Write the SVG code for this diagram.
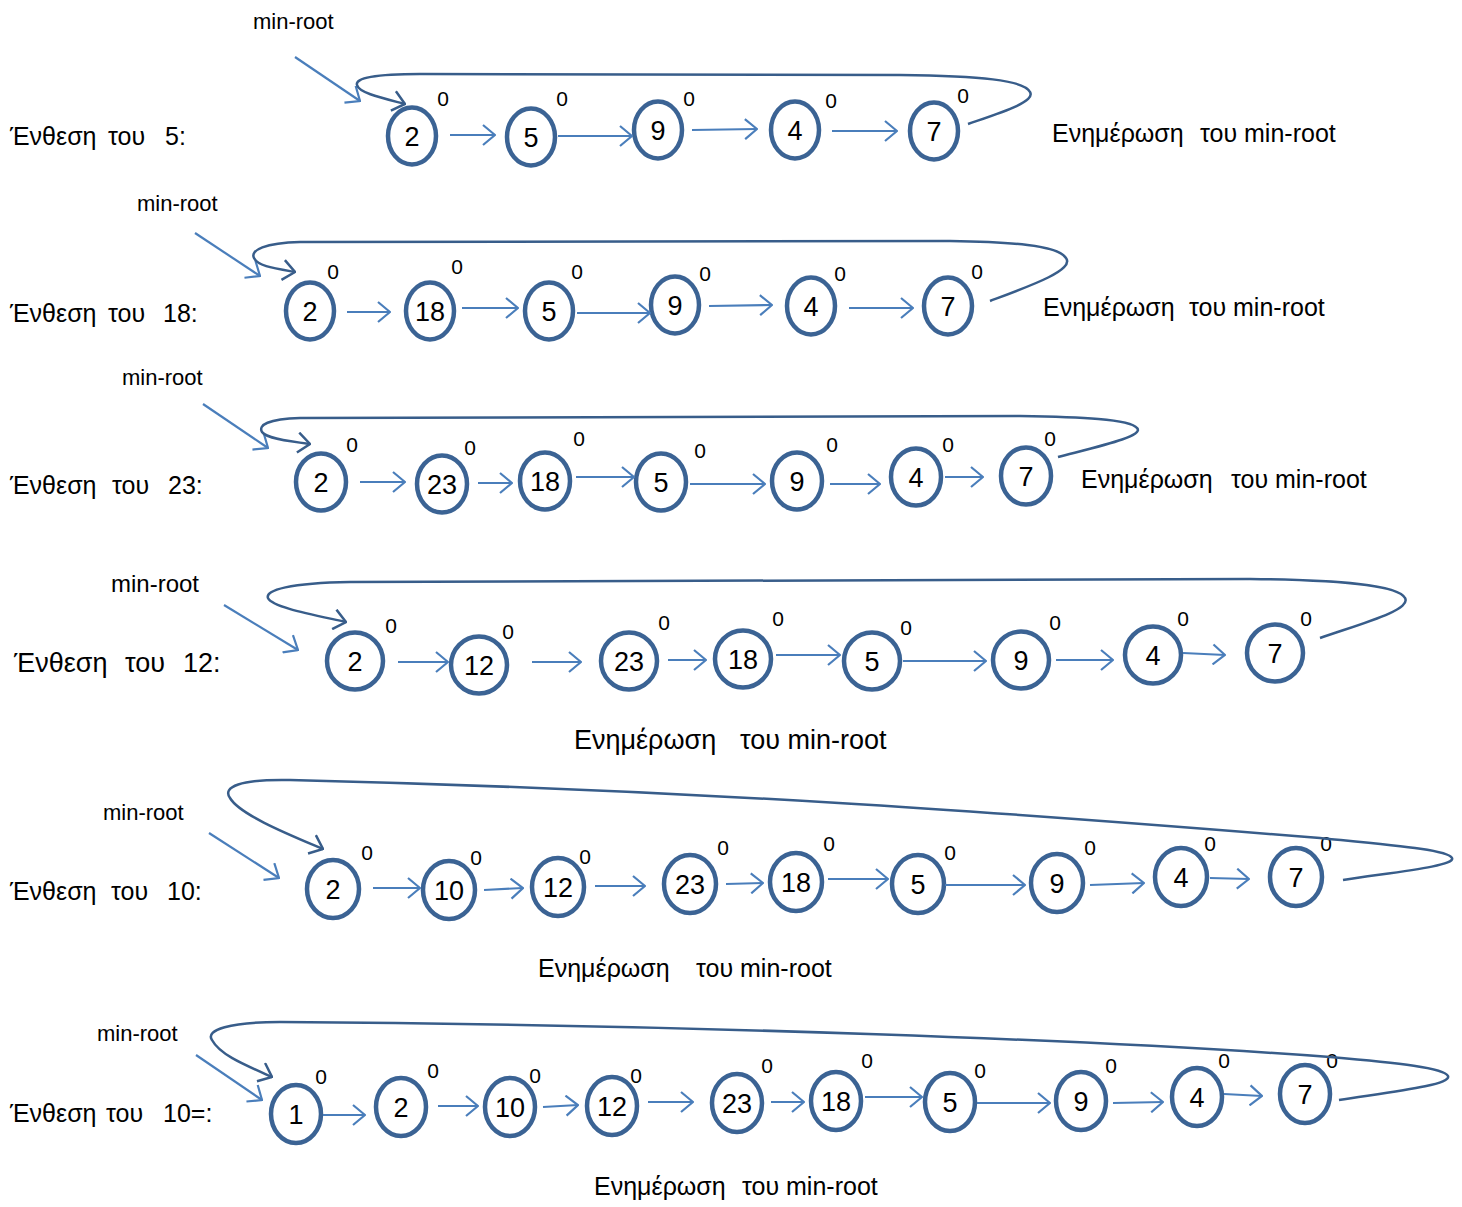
<svg xmlns="http://www.w3.org/2000/svg" width="1462" height="1207" viewBox="0 0 1462 1207">
<defs>
  <style>
    text { font-family: "Liberation Sans", "DejaVu Sans", sans-serif; fill: #000; }
    .node { fill: #fff; stroke: #3b6394; stroke-width: 4.5; }
    .val { font-size: 27px; text-anchor: middle; }
    .deg { font-size: 21px; text-anchor: middle; }
    .lbl { font-size: 25px; }
    .upd { font-size: 25px; }
    .mr { font-size: 22px; }
    .link { fill: none; stroke: #4a7ebb; stroke-width: 2.2; marker-end: url(#ah); }
    .loop { fill: none; stroke: #385d8a; stroke-width: 2.5; marker-end: url(#ahd); }
  </style>
  <marker id="ah" viewBox="0 0 14 22" refX="13" refY="11" markerWidth="14" markerHeight="22" markerUnits="userSpaceOnUse" orient="auto">
    <path d="M1,1 L13,11 L1,21" fill="none" stroke="#4a7ebb" stroke-width="2.2"/>
  </marker>
  <marker id="ahd" viewBox="0 0 14 22" refX="13" refY="11" markerWidth="14" markerHeight="22" markerUnits="userSpaceOnUse" orient="auto">
    <path d="M1,1 L13,11 L1,21" fill="none" stroke="#385d8a" stroke-width="2.5"/>
  </marker>
</defs>
<rect width="1462" height="1207" fill="#fff"/>

<!-- row labels -->
<g id="labels">
  <text class="lbl" y="145"><tspan x="10">Ένθεση</tspan><tspan x="108">του</tspan><tspan x="165">5:</tspan></text>
  <text class="lbl" y="322"><tspan x="10">Ένθεση</tspan><tspan x="108">του</tspan><tspan x="163">18:</tspan></text>
  <text class="lbl" y="494"><tspan x="10">Ένθεση</tspan><tspan x="112">του</tspan><tspan x="168">23:</tspan></text>
  <text class="lbl" y="672" style="font-size:27px"><tspan x="14">Ένθεση</tspan><tspan x="125">του</tspan><tspan x="183">12:</tspan></text>
  <text class="lbl" y="900"><tspan x="10">Ένθεση</tspan><tspan x="111">του</tspan><tspan x="167">10:</tspan></text>
  <text class="lbl" y="1122"><tspan x="10">Ένθεση</tspan><tspan x="106">του</tspan><tspan x="163">10=:</tspan></text>

  <text class="upd" y="142"><tspan x="1052">Ενημέρωση</tspan><tspan x="1200">του min-root</tspan></text>
  <text class="upd" y="316"><tspan x="1043">Ενημέρωση</tspan><tspan x="1189">του min-root</tspan></text>
  <text class="upd" y="488"><tspan x="1081">Ενημέρωση</tspan><tspan x="1231">του min-root</tspan></text>
  <text class="upd" y="749" style="font-size:27px"><tspan x="574">Ενημέρωση</tspan><tspan x="740">του min-root</tspan></text>
  <text class="upd" y="977"><tspan x="538">Ενημέρωση</tspan><tspan x="696">του min-root</tspan></text>
  <text class="upd" y="1195"><tspan x="594">Ενημέρωση</tspan><tspan x="742">του min-root</tspan></text>

  <text class="mr" x="253" y="29">min-root</text>
  <text class="mr" x="137" y="211">min-root</text>
  <text class="mr" x="122" y="385">min-root</text>
  <text class="mr" x="111" y="592" style="font-size:24px">min-root</text>
  <text class="mr" x="103" y="820">min-root</text>
  <text class="mr" x="97" y="1041">min-root</text>
</g>

<!-- root list nodes -->
<g id="row1">
  <g id="r1-2"><ellipse class="node" cx="412" cy="136" rx="24" ry="28.5"/><text class="val" x="412" y="146">2</text><text class="deg" x="443" y="106">0</text></g>
  <g id="r1-5"><ellipse class="node" cx="531" cy="137" rx="24" ry="28.5"/><text class="val" x="531" y="147">5</text><text class="deg" x="562" y="106">0</text></g>
  <g id="r1-9"><ellipse class="node" cx="658" cy="130" rx="24" ry="28.5"/><text class="val" x="658" y="140">9</text><text class="deg" x="689" y="106">0</text></g>
  <g id="r1-4"><ellipse class="node" cx="795" cy="130" rx="24" ry="28.5"/><text class="val" x="795" y="140">4</text><text class="deg" x="831" y="108">0</text></g>
  <g id="r1-7"><ellipse class="node" cx="934" cy="131" rx="24" ry="28.5"/><text class="val" x="934" y="141">7</text><text class="deg" x="963" y="103">0</text></g>
</g>
<g id="row2">
  <g id="r2-2"><ellipse class="node" cx="310" cy="311" rx="24" ry="28.5"/><text class="val" x="310" y="321">2</text><text class="deg" x="333" y="279">0</text></g>
  <g id="r2-18"><ellipse class="node" cx="430" cy="311" rx="24" ry="28.5"/><text class="val" x="430" y="321">18</text><text class="deg" x="457" y="274">0</text></g>
  <g id="r2-5"><ellipse class="node" cx="549" cy="311" rx="24" ry="28.5"/><text class="val" x="549" y="321">5</text><text class="deg" x="577" y="279">0</text></g>
  <g id="r2-9"><ellipse class="node" cx="675" cy="305" rx="24" ry="28.5"/><text class="val" x="675" y="315">9</text><text class="deg" x="705" y="281">0</text></g>
  <g id="r2-4"><ellipse class="node" cx="811" cy="306" rx="24" ry="28.5"/><text class="val" x="811" y="316">4</text><text class="deg" x="840" y="281">0</text></g>
  <g id="r2-7"><ellipse class="node" cx="948" cy="306" rx="24" ry="28.5"/><text class="val" x="948" y="316">7</text><text class="deg" x="977" y="279">0</text></g>
</g>
<g id="row3">
  <g id="r3-2"><ellipse class="node" cx="321" cy="482" rx="25" ry="28.5"/><text class="val" x="321" y="492">2</text><text class="deg" x="352" y="452">0</text></g>
  <g id="r3-23"><ellipse class="node" cx="442" cy="484" rx="25" ry="28.5"/><text class="val" x="442" y="494">23</text><text class="deg" x="470" y="455">0</text></g>
  <g id="r3-18"><ellipse class="node" cx="545" cy="481" rx="25" ry="28.5"/><text class="val" x="545" y="491">18</text><text class="deg" x="579" y="446">0</text></g>
  <g id="r3-5"><ellipse class="node" cx="661" cy="482" rx="25" ry="28.5"/><text class="val" x="661" y="492">5</text><text class="deg" x="700" y="458">0</text></g>
  <g id="r3-9"><ellipse class="node" cx="797" cy="481" rx="25" ry="28.5"/><text class="val" x="797" y="491">9</text><text class="deg" x="832" y="452">0</text></g>
  <g id="r3-4"><ellipse class="node" cx="916" cy="477" rx="25" ry="28.5"/><text class="val" x="916" y="487">4</text><text class="deg" x="948" y="452">0</text></g>
  <g id="r3-7"><ellipse class="node" cx="1026" cy="476" rx="25" ry="28.5"/><text class="val" x="1026" y="486">7</text><text class="deg" x="1050" y="446">0</text></g>
</g>
<g id="row4">
  <g id="r4-2"><ellipse class="node" cx="355" cy="661" rx="28" ry="28.5"/><text class="val" x="355" y="671">2</text><text class="deg" x="391" y="633">0</text></g>
  <g id="r4-12"><ellipse class="node" cx="479" cy="665" rx="28" ry="28.5"/><text class="val" x="479" y="675">12</text><text class="deg" x="508" y="639">0</text></g>
  <g id="r4-23"><ellipse class="node" cx="629" cy="661" rx="28" ry="28.5"/><text class="val" x="629" y="671">23</text><text class="deg" x="664" y="630">0</text></g>
  <g id="r4-18"><ellipse class="node" cx="743" cy="659" rx="28" ry="28.5"/><text class="val" x="743" y="669">18</text><text class="deg" x="778" y="626">0</text></g>
  <g id="r4-5"><ellipse class="node" cx="872" cy="661" rx="28" ry="28.5"/><text class="val" x="872" y="671">5</text><text class="deg" x="906" y="635">0</text></g>
  <g id="r4-9"><ellipse class="node" cx="1021" cy="660" rx="28" ry="28.5"/><text class="val" x="1021" y="670">9</text><text class="deg" x="1055" y="630">0</text></g>
  <g id="r4-4"><ellipse class="node" cx="1153" cy="655" rx="28" ry="28.5"/><text class="val" x="1153" y="665">4</text><text class="deg" x="1183" y="626">0</text></g>
  <g id="r4-7"><ellipse class="node" cx="1275" cy="653" rx="28" ry="28.5"/><text class="val" x="1275" y="663">7</text><text class="deg" x="1306" y="626">0</text></g>
</g>
<g id="row5">
  <g id="r5-2"><ellipse class="node" cx="333" cy="889" rx="26" ry="29"/><text class="val" x="333" y="899">2</text><text class="deg" x="367" y="860">0</text></g>
  <g id="r5-10"><ellipse class="node" cx="449" cy="890" rx="26" ry="29"/><text class="val" x="449" y="900">10</text><text class="deg" x="476" y="865">0</text></g>
  <g id="r5-12"><ellipse class="node" cx="558" cy="887" rx="26" ry="29"/><text class="val" x="558" y="897">12</text><text class="deg" x="585" y="864">0</text></g>
  <g id="r5-23"><ellipse class="node" cx="690" cy="884" rx="26" ry="29"/><text class="val" x="690" y="894">23</text><text class="deg" x="723" y="855">0</text></g>
  <g id="r5-18"><ellipse class="node" cx="796" cy="882" rx="26" ry="29"/><text class="val" x="796" y="892">18</text><text class="deg" x="829" y="851">0</text></g>
  <g id="r5-5"><ellipse class="node" cx="918" cy="884" rx="26" ry="29"/><text class="val" x="918" y="894">5</text><text class="deg" x="950" y="860">0</text></g>
  <g id="r5-9"><ellipse class="node" cx="1057" cy="883" rx="26" ry="29"/><text class="val" x="1057" y="893">9</text><text class="deg" x="1090" y="855">0</text></g>
  <g id="r5-4"><ellipse class="node" cx="1181" cy="877" rx="26" ry="29"/><text class="val" x="1181" y="887">4</text><text class="deg" x="1210" y="851">0</text></g>
  <g id="r5-7"><ellipse class="node" cx="1296" cy="877" rx="26" ry="29"/><text class="val" x="1296" y="887">7</text><text class="deg" x="1326" y="851">0</text></g>
</g>
<g id="row6">
  <g id="r6-1"><ellipse class="node" cx="296" cy="1114" rx="25" ry="29"/><text class="val" x="296" y="1124">1</text><text class="deg" x="321" y="1084">0</text></g>
  <g id="r6-2"><ellipse class="node" cx="401" cy="1107" rx="25" ry="29"/><text class="val" x="401" y="1117">2</text><text class="deg" x="433" y="1078">0</text></g>
  <g id="r6-10"><ellipse class="node" cx="510" cy="1107" rx="25" ry="29"/><text class="val" x="510" y="1117">10</text><text class="deg" x="535" y="1083">0</text></g>
  <g id="r6-12"><ellipse class="node" cx="612" cy="1106" rx="25" ry="29"/><text class="val" x="612" y="1116">12</text><text class="deg" x="636" y="1083">0</text></g>
  <g id="r6-23"><ellipse class="node" cx="737" cy="1103" rx="25" ry="29"/><text class="val" x="737" y="1113">23</text><text class="deg" x="767" y="1073">0</text></g>
  <g id="r6-18"><ellipse class="node" cx="836" cy="1101" rx="25" ry="29"/><text class="val" x="836" y="1111">18</text><text class="deg" x="867" y="1068">0</text></g>
  <g id="r6-5"><ellipse class="node" cx="950" cy="1102" rx="25" ry="29"/><text class="val" x="950" y="1112">5</text><text class="deg" x="980" y="1078">0</text></g>
  <g id="r6-9"><ellipse class="node" cx="1081" cy="1101" rx="25" ry="29"/><text class="val" x="1081" y="1111">9</text><text class="deg" x="1111" y="1073">0</text></g>
  <g id="r6-4"><ellipse class="node" cx="1197" cy="1097" rx="25" ry="29"/><text class="val" x="1197" y="1107">4</text><text class="deg" x="1224" y="1068">0</text></g>
  <g id="r6-7"><ellipse class="node" cx="1305" cy="1094" rx="25" ry="29"/><text class="val" x="1305" y="1104">7</text><text class="deg" x="1332" y="1068">0</text></g>
</g>

<!-- sibling links, min-root pointers and wrap-around loops -->
<g id="connectors">
  <!-- row 1 -->
  <line class="link" x1="295" y1="57" x2="360" y2="101"/>
  <line class="link" x1="450" y1="135" x2="495" y2="135"/>
  <line class="link" x1="558" y1="136" x2="632" y2="136"/>
  <line class="link" x1="692" y1="130" x2="757" y2="129"/>
  <line class="link" x1="832" y1="131" x2="897" y2="131"/>
  <path class="loop" d="M968,124 C1000,113 1036,102 1030,92 C1024,80 980,76 900,75 L420,74 C375,74 355,78 357,85 C359,93 382,98 405,104"/>

  <!-- row 2 -->
  <line class="link" x1="195" y1="233" x2="260" y2="276"/>
  <line class="link" x1="347" y1="312" x2="390" y2="312"/>
  <line class="link" x1="462" y1="308" x2="518" y2="308"/>
  <line class="link" x1="577" y1="313" x2="650" y2="313"/>
  <line class="link" x1="709" y1="306" x2="772" y2="305"/>
  <line class="link" x1="849" y1="308" x2="913" y2="308"/>
  <path class="loop" d="M990,301 C1030,286 1075,270 1066,258 C1058,245 1010,242 950,241 L300,242 C265,243 250,250 254,258 C258,266 272,268 295,272"/>

  <!-- row 3 -->
  <line class="link" x1="203" y1="404" x2="268" y2="448"/>
  <line class="link" x1="360" y1="482" x2="405" y2="482"/>
  <line class="link" x1="478" y1="483" x2="512" y2="483"/>
  <line class="link" x1="576" y1="477" x2="634" y2="477"/>
  <line class="link" x1="690" y1="484" x2="765" y2="484"/>
  <line class="link" x1="830" y1="484" x2="880" y2="484"/>
  <line class="link" x1="945" y1="477" x2="983" y2="477"/>
  <path class="loop" d="M1058,457 C1100,446 1145,436 1137,428 C1130,419 1080,417 1020,416 L300,418 C268,419 258,425 262,432 C266,438 285,441 310,444"/>

  <!-- row 4 -->
  <line class="link" x1="224" y1="605" x2="298" y2="650"/>
  <line class="link" x1="398" y1="662" x2="448" y2="662"/>
  <line class="link" x1="532" y1="662" x2="581" y2="662"/>
  <line class="link" x1="668" y1="660" x2="706" y2="660"/>
  <line class="link" x1="776" y1="655" x2="840" y2="655"/>
  <line class="link" x1="903" y1="661" x2="986" y2="661"/>
  <line class="link" x1="1056" y1="660" x2="1113" y2="660"/>
  <line class="link" x1="1183" y1="653" x2="1225" y2="655"/>
  <path class="loop" d="M1320,638 C1360,624 1412,610 1405,598 C1398,585 1340,580 1250,579 L350,582 C290,583 265,590 268,598 C272,607 310,614 346,622"/>

  <!-- row 5 -->
  <line class="link" x1="209" y1="833" x2="279" y2="878"/>
  <line class="link" x1="373" y1="888" x2="420" y2="888"/>
  <line class="link" x1="484" y1="890" x2="523" y2="888"/>
  <line class="link" x1="595" y1="886" x2="645" y2="886"/>
  <line class="link" x1="726" y1="884" x2="763" y2="883"/>
  <line class="link" x1="828" y1="879" x2="888" y2="879"/>
  <line class="link" x1="945" y1="885" x2="1025" y2="885"/>
  <line class="link" x1="1090" y1="885" x2="1144" y2="883"/>
  <line class="link" x1="1210" y1="878" x2="1249" y2="879"/>
  <path class="loop" d="M1343,880 C1395,872 1456,866 1452,858 C1448,850 1400,846 1320,838 C1000,812 700,790 290,780 C240,779 222,787 230,798 C240,815 290,835 323,849"/>

  <!-- row 6 -->
  <line class="link" x1="196" y1="1055" x2="262" y2="1100"/>
  <line class="link" x1="323" y1="1115" x2="365" y2="1115"/>
  <line class="link" x1="438" y1="1106" x2="478" y2="1106"/>
  <line class="link" x1="543" y1="1107" x2="578" y2="1105"/>
  <line class="link" x1="648" y1="1102" x2="693" y2="1102"/>
  <line class="link" x1="771" y1="1102" x2="804" y2="1102"/>
  <line class="link" x1="865" y1="1097" x2="922" y2="1097"/>
  <line class="link" x1="977" y1="1103" x2="1050" y2="1103"/>
  <line class="link" x1="1113" y1="1103" x2="1163" y2="1102"/>
  <line class="link" x1="1224" y1="1094" x2="1262" y2="1096"/>
  <path class="loop" d="M1339,1100 C1390,1092 1452,1085 1448,1076 C1444,1068 1400,1063 1330,1057 C1100,1040 700,1025 280,1022 C230,1022 205,1030 212,1040 C220,1055 245,1065 272,1077"/>
</g>
</svg>
